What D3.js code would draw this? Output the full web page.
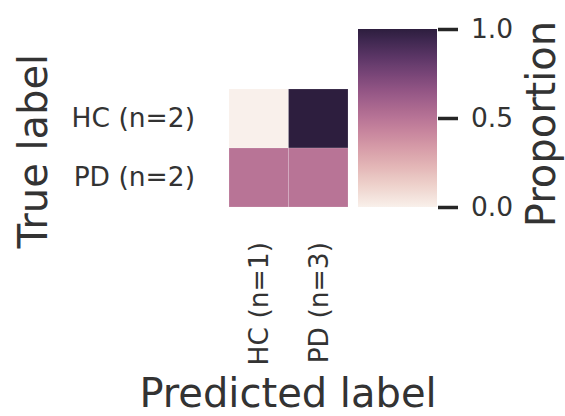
<!DOCTYPE html>
<html lang="en">
<head>
  <meta charset="UTF-8" />
  <title>Confusion matrix</title>
  <style>
    html, body {
      margin: 0; padding: 0;
      background: #ffffff;
      font-family: "DejaVu Sans", sans-serif;
    }
    svg { display: block; }
    .tick text { fill: #333333; }
    .axis-title { fill: #333333; }
  </style>
  <script src="https://d3js.org/d3.v7.min.js"></script>
</head>
<body>
  <svg id="chart" width="565" height="416"></svg>

  <script>
    // data
    const predLabels = ["HC (n=1)", "PD (n=3)"];
    const trueLabels = ["HC (n=2)", "PD (n=2)"];
    const proportions = [
      [0.0, 1.0],
      [0.5, 0.5]
    ];
    const cbarTicks = [0, 0.5, 1];

    const width = 565, height = 416;
    const svg = d3.select("#chart");

    // seaborn style cubehelix (start=0, rot=.4, hue=.8, light=.95, dark=.15)
    function cubehelix(v) {
      const light = 0.95, dark = 0.15, start = 0, rot = 0.4, hue = 0.8, gamma = 1;
      const x = light + (dark - light) * v;
      const xg = Math.pow(x, gamma);
      const a = hue * xg * (1 - xg) / 2;
      const phi = 2 * Math.PI * (start / 3 + rot * x);
      const ch = (p0, p1) => {
        const c = xg + a * (p0 * Math.cos(phi) + p1 * Math.sin(phi));
        return Math.round(Math.max(0, Math.min(1, c)) * 255);
      };
      return d3.rgb(ch(-0.14861, 1.78277), ch(-0.29227, -0.90649), ch(1.97294, 0.0)).formatHex();
    }

    const x = d3.scaleBand().domain(predLabels).range([229, 348]);
    const y = d3.scaleBand().domain(trueLabels).range([89, 207]);

    const cells = [];
    trueLabels.forEach((t, i) => {
      predLabels.forEach((p, j) => {
        cells.push({ t, p, v: proportions[i][j] });
      });
    });

    svg.append("g")
      .selectAll("rect")
      .data(cells)
      .join("rect")
      .attr("x", d => x(d.p))
      .attr("y", d => y(d.t))
      .attr("width", x.bandwidth())
      .attr("height", y.bandwidth())
      .attr("fill", d => cubehelix(d.v))
      .attr("stroke", "rgba(255,255,255,0.25)")
      .attr("stroke-width", 0.6);

    // y tick labels
    const yAxis = svg.append("g")
      .attr("transform", "translate(229,0)")
      .call(d3.axisLeft(y).tickSize(0).tickPadding(34));
    yAxis.select(".domain").remove();
    yAxis.selectAll("text")
      .style("font-size", "26.5px")
      .style("font-family", "DejaVu Sans");

    // x tick labels, rotated
    const xAxis = svg.append("g")
      .attr("transform", "translate(0,207)")
      .call(d3.axisBottom(x).tickSize(0).tickPadding(0));
    xAxis.select(".domain").remove();
    xAxis.selectAll("text")
      .style("font-size", "26.5px")
      .style("font-family", "DejaVu Sans")
      .attr("text-anchor", "end")
      .attr("dy", null)
      .attr("y", 0)
      .attr("dominant-baseline", "central")
      .attr("transform", "translate(0,35) rotate(-90)");

    // colour bar
    const cb = { x: 358, w: 79 };
    const cy = d3.scaleLinear().domain([0, 1]).range([207, 29]);

    const grad = svg.append("defs").append("linearGradient")
      .attr("id", "cbar")
      .attr("x1", 0).attr("y1", 1).attr("x2", 0).attr("y2", 0);
    grad.selectAll("stop")
      .data(d3.range(0, 1.0001, 0.02))
      .join("stop")
      .attr("offset", d => d)
      .attr("stop-color", d => cubehelix(d));

    svg.append("rect")
      .attr("x", cb.x)
      .attr("y", cy(1))
      .attr("width", cb.w)
      .attr("height", cy(0) - cy(1))
      .attr("fill", "url(#cbar)");

    const cAxis = svg.append("g")
      .attr("transform", `translate(${cb.x + cb.w + 1},0)`)
      .call(d3.axisRight(cy).tickValues(cbarTicks).tickFormat(d3.format(".1f"))
        .tickSize(20).tickPadding(13));
    cAxis.select(".domain").remove();
    cAxis.selectAll("line").attr("stroke", "#262626").attr("stroke-width", 3.5);
    cAxis.selectAll("text")
      .style("font-size", "26.5px")
      .style("font-family", "DejaVu Sans");

    // axis titles
    svg.append("text")
      .attr("class", "axis-title")
      .attr("x", 288)
      .attr("y", 407)
      .attr("text-anchor", "middle")
      .style("font-size", "40px")
      .text("Predicted label");

    svg.append("text")
      .attr("class", "axis-title")
      .attr("transform", "translate(47,151) rotate(-90)")
      .attr("text-anchor", "middle")
      .style("font-size", "40px")
      .text("True label");

    svg.append("text")
      .attr("class", "axis-title")
      .attr("transform", "translate(555,124) rotate(-90)")
      .attr("text-anchor", "middle")
      .style("font-size", "40px")
      .text("Proportion");
  </script>
</body>
</html>
